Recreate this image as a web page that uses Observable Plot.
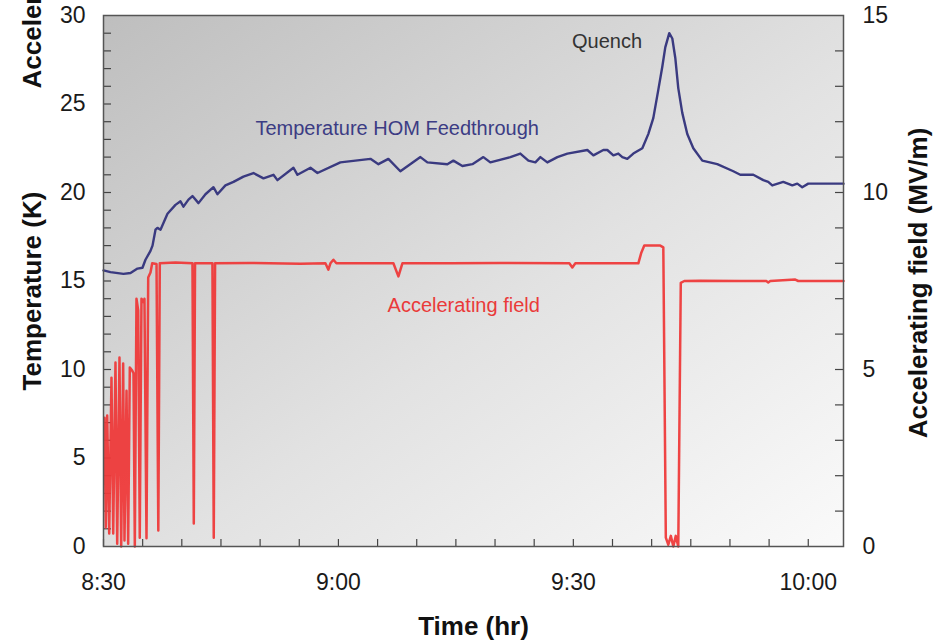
<!DOCTYPE html>
<html>
<head>
<meta charset="utf-8">
<script src="https://cdn.jsdelivr.net/npm/d3@7"></script>
<script src="https://cdn.jsdelivr.net/npm/@observablehq/plot@0.6"></script>
<style>
  html, body { margin: 0; padding: 0; background: #ffffff; }
  #chart { width: 938px; height: 640px; overflow: hidden; }
</style>
</head>
<body>
<div id="chart"></div>
<script>
// ---------- data (minutes after 8:30) ----------
const tempTime = [0, 0.89, 2.55, 3.45, 4.34, 4.98, 5.36, 6.0, 6.26, 6.64, 6.89, 7.28, 8.17, 9.19, 9.83, 10.21, 10.85, 11.36, 12.13, 13.02, 14.04, 14.55, 15.57, 16.6, 17.87, 19.15, 20.43, 21.7, 22.21, 24.26, 24.77, 26.43, 27.32, 30.25, 34.09, 35.11, 36.38, 37.91, 40.47, 41.36, 43.91, 44.68, 45.83, 47.11, 48.51, 49.4, 51.96, 53.23, 54.26, 55.15, 55.79, 56.68, 57.96, 59.24, 61.79, 62.56, 63.83, 64.34, 65.11, 65.74, 66.26, 66.89, 67.66, 68.81, 69.57, 70.21, 70.85, 71.36, 71.74, 72.25, 72.64, 73.02, 73.4, 73.91, 74.55, 75.32, 76.47, 78.38, 80.43, 81.32, 82.98, 84.26, 84.89, 85.4, 86.81, 87.96, 88.6, 89.23, 90.0, 94.09, 94.5];
const tempK = [15.6, 15.5, 15.4, 15.45, 15.7, 15.75, 16.2, 16.7, 17.0, 17.9, 18.0, 17.9, 18.8, 19.3, 19.5, 19.2, 19.6, 19.8, 19.4, 19.9, 20.3, 19.9, 20.4, 20.6, 20.9, 21.1, 20.8, 21.0, 20.7, 21.4, 21.0, 21.4, 21.1, 21.7, 21.9, 21.6, 21.9, 21.2, 22.0, 21.7, 21.6, 21.8, 21.5, 21.6, 22.0, 21.7, 22.0, 22.2, 21.8, 21.7, 22.0, 21.7, 22.0, 22.2, 22.4, 22.1, 22.4, 22.4, 22.1, 22.2, 22.0, 21.9, 22.2, 22.5, 23.3, 24.2, 25.8, 27.1, 28.2, 29.0, 28.7, 27.6, 25.9, 24.5, 23.3, 22.5, 21.8, 21.6, 21.2, 21.0, 21.0, 20.7, 20.6, 20.4, 20.6, 20.4, 20.5, 20.3, 20.5, 20.5, 20.5];

const fieldTime = [0.13, 0.29, 0.47, 0.73, 1.02, 1.24, 1.53, 1.75, 2.04, 2.26, 2.51, 2.68, 2.94, 3.15, 3.36, 3.66, 3.83, 4.0, 4.21, 4.43, 4.63, 4.85, 5.11, 5.23, 5.49, 5.71, 6.0, 6.22, 6.77, 7.0, 7.19, 9.19, 11.36, 11.53, 11.69, 13.91, 14.08, 14.25, 18.77, 25.15, 28.34, 28.72, 28.98, 29.36, 29.74, 37.02, 37.66, 38.17, 44.3, 50.68, 59.49, 59.87, 60.26, 68.3, 68.68, 69.06, 71.1, 71.49, 71.81, 72.13, 72.45, 72.77, 73.08, 73.4, 73.72, 74.17, 76.21, 81.32, 84.64, 84.89, 85.15, 88.34, 88.72, 94.5];
const fieldMV = [3.64, 0.54, 3.7, 0.37, 4.77, 0.37, 5.2, 0.08, 5.34, 0, 5.17, 0.17, 4.4, 0.08, 5.06, 4.97, 4.9, 0, 7.0, 6.67, 0.25, 7.0, 6.9, 7.0, 0.23, 7.6, 7.74, 8.0, 7.98, 0.45, 8.0, 8.02, 8.0, 0.65, 8.0, 8.0, 0.25, 8.0, 8.01, 7.99, 8.0, 7.82, 8.0, 8.1, 8.0, 8.0, 7.63, 8.0, 8.0, 8.01, 8.0, 7.88, 8.0, 8.0, 8.3, 8.5, 8.5, 8.45, 0.25, 0.05, 0.3, 0.0, 0.3, 0.0, 7.45, 7.5, 7.51, 7.5, 7.5, 7.46, 7.5, 7.54, 7.5, 7.5];

const timeTicks = [0, 30, 60, 90];
const timeTickLabels = ["8:30", "9:00", "9:30", "10:00"];
const tempTicks = [0, 5, 10, 15, 20, 25, 30];
const fieldTicks = [0, 5, 10, 15];

const annotations = [
  {label: "Quench", time: 64.3, value: 28.5, color: "#333333"},
  {label: "Temperature HOM Feedthrough", time: 37.5, value: 23.6, color: "#3c3c84"},
  {label: "Accelerating field", time: 46.0, value: 13.6, color: "#ea3a3a"}
];

// ---------- build ----------
const fieldToTemp = 30 / 15; // right axis maps 0..15 MV/m onto 0..30 K
const tempData = tempTime.map((t, i) => ({time: t, value: tempK[i]}));
const fieldData = fieldTime.map((t, i) => ({time: t, value: fieldMV[i]}));
const minorX = d3.range(0, 91, 5);
const minorYLeft = d3.range(1, 30, 1);
const minorYRight = d3.range(1, 15, 1).map(v => v * fieldToTemp);

const FONT = "'Liberation Sans', Arial, sans-serif";
const W = 938, H = 640, ML = 103, MR = 95, MT = 15, MB = 94;
const innerW = W - ML - MR, innerH = H - MT - MB;

const chart = Plot.plot({
  width: W,
  height: H,
  marginLeft: ML,
  marginRight: MR,
  marginTop: MT,
  marginBottom: MB,
  style: {fontFamily: FONT, background: "#ffffff", overflow: "hidden"},
  x: {domain: [0, 94.5]},
  y: {domain: [0, 30]},
  marks: [
    Plot.frame({fill: "url(#bgGrad)", stroke: "none"}),
    // inward tick marks
    Plot.tickX(minorX, {x: d => d, insetTop: innerH - 7, stroke: "#444", strokeWidth: 1.2}),
    Plot.tickY(minorYLeft, {y: d => d, insetRight: innerW - 8, stroke: "#444", strokeWidth: 1.2}),
    Plot.tickY(minorYRight, {y: d => d, insetLeft: innerW - 8, stroke: "#444", strokeWidth: 1.2}),
    // series
    Plot.line(fieldData, {x: "time", y: d => d.value * fieldToTemp, stroke: "#ee3a3a", strokeWidth: 2.5, strokeOpacity: 0.95}),
    Plot.line(tempData, {x: "time", y: "value", stroke: "#3a3a80", strokeWidth: 2.4, curve: "linear"}),
    // annotations
    Plot.text(annotations, {x: "time", y: "value", text: "label", fill: d => d.color, fontSize: 20, fontFamily: FONT}),
    // axes
    Plot.axisX({anchor: "bottom", ticks: timeTicks, tickFormat: (d) => timeTickLabels[timeTicks.indexOf(d)], tickSize: 0, tickPadding: 27, fontSize: 23, fill: "#1a1a1a", label: null}),
    Plot.axisY({anchor: "left", ticks: tempTicks, tickSize: 0, tickPadding: 18, fontSize: 23, fill: "#1a1a1a", label: null}),
    Plot.axisY({anchor: "right", ticks: fieldTicks.map(v => v * fieldToTemp), tickFormat: d => String(d / fieldToTemp), tickSize: 0, tickPadding: 19, fontSize: 23, fill: "#1a1a1a", label: null}),
    // axis titles
    Plot.text(["Time (hr)"], {frameAnchor: "bottom", dy: 80, text: d => d, fontSize: 26, fontWeight: "bold", fill: "#111", lineAnchor: "middle"}),
    Plot.text(["Temperature (K)"], {frameAnchor: "bottom-left", dx: -63, dy: -156, rotate: -90, textAnchor: "start", lineAnchor: "bottom", text: d => d, fontSize: 26, fontWeight: "bold", fill: "#111"}),
    Plot.text(["Accelerating field (MV/m)"], {frameAnchor: "top-left", dx: -63, dy: 73, rotate: -90, textAnchor: "start", lineAnchor: "bottom", text: d => d, fontSize: 26, fontWeight: "bold", fill: "#111"}),
    Plot.text(["Accelerating field (MV/m)"], {frameAnchor: "right", dx: 83, dy: 2, rotate: -90, textAnchor: "middle", lineAnchor: "bottom", text: d => d, fontSize: 26, fontWeight: "bold", fill: "#111"}),
    Plot.frame({stroke: "#555", strokeWidth: 1.5})
  ]
});

// gradient background definition for the plot frame
const ns = "http://www.w3.org/2000/svg";
const defs = document.createElementNS(ns, "defs");
const grad = document.createElementNS(ns, "linearGradient");
grad.setAttribute("id", "bgGrad");
grad.setAttribute("x1", "0"); grad.setAttribute("y1", "0");
grad.setAttribute("x2", "1"); grad.setAttribute("y2", "1");
[["0%", "#bebebe"], ["55%", "#e2e2e2"], ["100%", "#fafafa"]].forEach(([o, c]) => {
  const s = document.createElementNS(ns, "stop");
  s.setAttribute("offset", o); s.setAttribute("stop-color", c);
  grad.appendChild(s);
});
defs.appendChild(grad);
chart.insertBefore(defs, chart.firstChild);

document.getElementById("chart").appendChild(chart);
</script>
</body>
</html>
